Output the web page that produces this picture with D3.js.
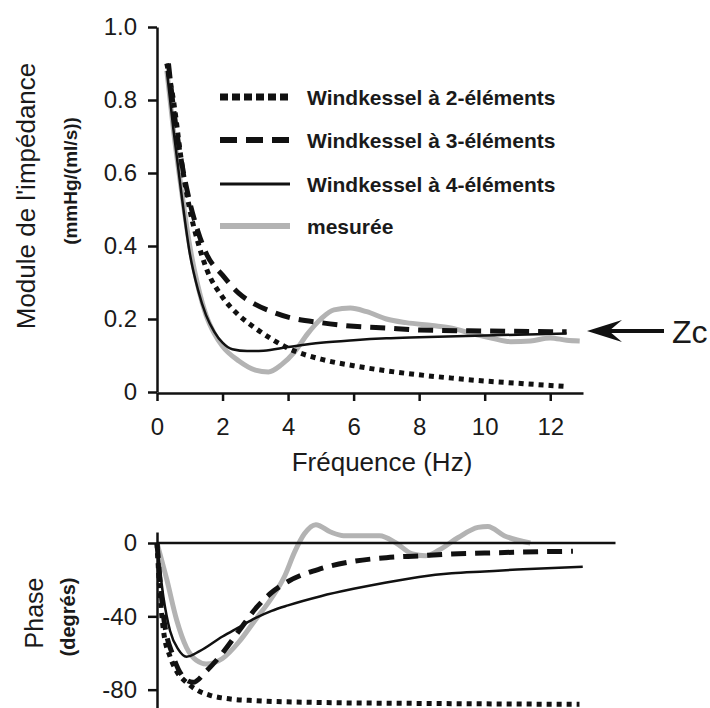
<!DOCTYPE html>
<html>
<head>
<meta charset="utf-8">
<script src="https://cdn.jsdelivr.net/npm/d3@7"></script>
<style>
body { margin: 0; background: #fff; }
text { font-family: "Liberation Sans", Arial, sans-serif; fill: #1a1a1a; }
.axis path, .axis line { stroke: #111; stroke-width: 2.5; }
.axis text { font-size: 24px; font-family: "Liberation Sans", Arial, sans-serif; fill: #1a1a1a; }
</style>
</head>
<body>
<svg id="chart" width="710" height="708"></svg>
<script>
// module de l'impédance, [fréquence Hz, mmHg/(ml/s)]
const mod2el = [[0.3,0.90],[0.5,0.80],[0.75,0.63],[1.0,0.50],[1.25,0.41],[1.5,0.34],[2.0,0.26],[2.5,0.21],[3.0,0.175],[3.5,0.145],[4.0,0.12],[5.0,0.09],[6.0,0.072],[7.0,0.058],[8.0,0.047],[9.0,0.038],[10.0,0.03],[11.0,0.024],[12.0,0.018],[12.5,0.015]];
const mod3el = [[0.35,0.90],[0.5,0.78],[0.75,0.63],[1.0,0.52],[1.25,0.44],[1.5,0.38],[2.0,0.32],[2.5,0.27],[3.0,0.24],[3.5,0.22],[4.0,0.205],[5.0,0.19],[6.0,0.18],[7.0,0.175],[8.0,0.17],[10.0,0.167],[12.5,0.165]];
const mod4el = [[0.3,0.88],[0.5,0.72],[0.75,0.54],[1.0,0.38],[1.25,0.28],[1.5,0.21],[1.75,0.165],[2.0,0.135],[2.3,0.117],[2.75,0.112],[3.25,0.113],[4.0,0.123],[5.0,0.135],[6.0,0.142],[7.0,0.147],[8.0,0.15],[10.0,0.155],[12.5,0.16]];
const modMes = [[0.3,0.88],[0.5,0.72],[0.75,0.55],[1.0,0.40],[1.25,0.29],[1.5,0.21],[1.75,0.16],[2.0,0.125],[2.5,0.085],[3.0,0.06],[3.4,0.055],[3.8,0.075],[4.2,0.11],[4.6,0.16],[5.0,0.2],[5.4,0.225],[5.9,0.23],[6.4,0.22],[7.0,0.2],[7.6,0.19],[8.4,0.182],[9.0,0.175],[9.6,0.16],[10.2,0.148],[10.8,0.138],[11.4,0.14],[12.0,0.148],[12.5,0.142],[12.9,0.14]];

// phase, [fréquence Hz, degrés]
const ph2el = [[0,0],[0.1,-30],[0.2,-48],[0.4,-62],[0.6,-70],[0.9,-76],[1.2,-80],[1.6,-83],[2.2,-85],[3,-86],[5,-87],[8,-87.5],[12.9,-88]];
const ph3el = [[0,0],[0.2,-40],[0.5,-62],[0.8,-73],[1.1,-76],[1.5,-70],[2.0,-60],[2.5,-48],[3.0,-36],[3.5,-27],[4.0,-21],[5.0,-14],[6.0,-10],[7.0,-8],[8.0,-7],[9.0,-6],[10,-5.5],[11,-5],[12.7,-4.5]];
const ph4el = [[0,0],[0.2,-30],[0.4,-48],[0.65,-58],[0.9,-62],[1.3,-59],[2.0,-51],[2.5,-46],[3.0,-41],[3.5,-37],[4.0,-34],[5.0,-29],[6.0,-25],[7.0,-21.5],[8.0,-18.5],[9.0,-16.5],[10,-15.5],[11,-14.5],[13,-13]];
const phMes = [[0,0],[0.3,-20],[0.6,-42],[0.9,-57],[1.2,-64],[1.5,-66],[2.0,-63],[2.5,-54],[3.0,-42],[3.5,-30],[3.9,-18],[4.2,-5],[4.5,5],[4.85,10],[5.3,6],[5.7,4],[6.3,4],[6.8,4],[7.3,0],[7.8,-6],[8.2,-7],[8.6,-4],[9.2,3],[9.8,8.5],[10.1,9],[10.6,4],[11.4,0]];

const freqTicks = [0, 2, 4, 6, 8, 10, 12];
const modTicks = [0, 0.2, 0.4, 0.6, 0.8, 1.0];
const phaseTicks = [0, -40, -80];
const legendLabels = ["Windkessel à 2-éléments", "Windkessel à 3-éléments", "Windkessel à 4-éléments", "mesurée"];

const styles = {
	el2: { stroke: "#111", width: 5, dash: "5,5" },
	el3: { stroke: "#111", width: 5, dash: "15,9" },
	el4: { stroke: "#111", width: 2.5, dash: null },
	mes: { stroke: "#b3b3b3", width: 5, dash: null }
};

let svg = d3.select("#chart");

// ---- module ----
let xTop = d3.scaleLinear().domain([0, 13]).range([157, 583]);
let yTop = d3.scaleLinear().domain([0, 1]).range([392, 27]);

svg.append("g")
	.attr("class", "axis")
	.attr("transform", "translate(0,393)")
	.call(d3.axisBottom(xTop).tickValues(freqTicks).tickSize(8).tickSizeOuter(0).tickPadding(17));

svg.append("g")
	.attr("class", "axis")
	.attr("transform", "translate(157,0)")
	.call(d3.axisLeft(yTop).tickValues(modTicks).tickSize(9).tickSizeOuter(0).tickPadding(11)
		.tickFormat(d => d === 0 ? "0" : d3.format(".1f")(d)));

let lineTop = d3.line().x(d => xTop(d[0])).y(d => yTop(d[1])).curve(d3.curveMonotoneX);

function drawSeries(g, data, line, st) {
	g.append("path")
		.datum(data)
		.attr("d", line)
		.attr("fill", "none")
		.attr("stroke", st.stroke)
		.attr("stroke-width", st.width)
		.attr("stroke-dasharray", st.dash);
}

let gTop = svg.append("g");
drawSeries(gTop, modMes, lineTop, styles.mes);
drawSeries(gTop, mod2el, lineTop, styles.el2);
drawSeries(gTop, mod3el, lineTop, styles.el3);
drawSeries(gTop, mod4el, lineTop, styles.el4);

svg.append("text")
	.attr("transform", "translate(35,196) rotate(-90)")
	.attr("text-anchor", "middle")
	.style("font-size", "26px")
	.text("Module de l'impédance");

svg.append("text")
	.attr("transform", "translate(77,181) rotate(-90)")
	.attr("text-anchor", "middle")
	.style("font-size", "19px")
	.style("font-weight", "bold")
	.text("(mmHg/(ml/s))");

svg.append("text")
	.attr("x", 382)
	.attr("y", 471)
	.attr("text-anchor", "middle")
	.style("font-size", "26px")
	.text("Fréquence (Hz)");

// legend
const legendRows = [97, 140, 184, 226];
const legendStyles = [
	{ stroke: "#111", width: 7, dash: "8,4" },
	{ stroke: "#111", width: 6, dash: "17,9" },
	{ stroke: "#111", width: 3, dash: null },
	{ stroke: "#b3b3b3", width: 6, dash: null }
];
legendLabels.forEach((lab, i) => {
	svg.append("line")
		.attr("x1", 220).attr("x2", 290)
		.attr("y1", legendRows[i]).attr("y2", legendRows[i])
		.attr("stroke", legendStyles[i].stroke)
		.attr("stroke-width", legendStyles[i].width)
		.attr("stroke-dasharray", legendStyles[i].dash);
	svg.append("text")
		.attr("x", 307)
		.attr("y", legendRows[i])
		.attr("dy", "0.36em")
		.style("font-size", "21px")
		.style("font-weight", "bold")
		.text(lab);
});

// Zc arrow
svg.append("line")
	.attr("x1", 608).attr("x2", 664)
	.attr("y1", 331).attr("y2", 331)
	.attr("stroke", "#111").attr("stroke-width", 4);
svg.append("path")
	.attr("d", "M587,331 L622,320 L609,331 L622,342 Z")
	.attr("fill", "#111");
svg.append("text")
	.attr("x", 672)
	.attr("y", 331)
	.attr("dy", "0.36em")
	.style("font-size", "32px")
	.text("Zc");

// ---- phase ----
let xBot = d3.scaleLinear().domain([0, 14]).range([157, 615.5]);
let yBot = d3.scaleLinear().domain([-90, 6]).range([708, 532]);

svg.append("g")
	.attr("class", "axis")
	.attr("transform", "translate(157,0)")
	.call(d3.axisLeft(yBot).tickValues(phaseTicks).tickSize(9).tickSizeOuter(0).tickPadding(11)
		.tickFormat(d => d === 0 ? "0" : "-" + Math.abs(d)));

let lineBot = d3.line().x(d => xBot(d[0])).y(d => yBot(d[1])).curve(d3.curveMonotoneX);

let gBot = svg.append("g");
drawSeries(gBot, phMes, lineBot, styles.mes);

gBot.append("line")
	.attr("x1", xBot(0)).attr("x2", xBot(14))
	.attr("y1", yBot(0)).attr("y2", yBot(0))
	.attr("stroke", "#111").attr("stroke-width", 2.5);

drawSeries(gBot, ph2el, lineBot, styles.el2);
drawSeries(gBot, ph3el, lineBot, styles.el3);
drawSeries(gBot, ph4el, lineBot, styles.el4);

svg.append("text")
	.attr("transform", "translate(43,613) rotate(-90)")
	.attr("text-anchor", "middle")
	.style("font-size", "25px")
	.text("Phase");

svg.append("text")
	.attr("transform", "translate(75,617) rotate(-90)")
	.attr("text-anchor", "middle")
	.style("font-size", "20px")
	.style("font-weight", "bold")
	.text("(degrés)");
</script>
</body>
</html>
